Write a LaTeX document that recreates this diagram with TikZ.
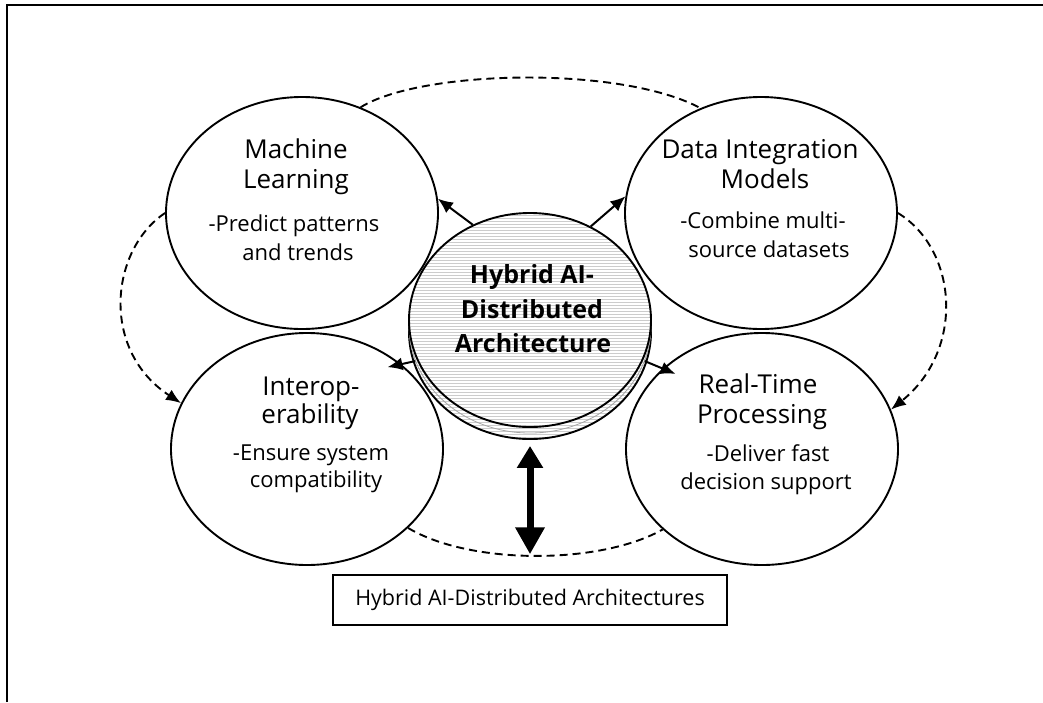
\documentclass[tikz,border=0pt]{standalone}
\usepackage{fontspec}
\setmainfont{Open Sans}
\usetikzlibrary{shapes.geometric,arrows.meta,patterns}

\begin{document}
\begin{tikzpicture}[x=1pt,y=-1pt,
  blob/.style={draw, line width=1.9pt, ellipse, minimum width=272pt, minimum height=232pt, inner sep=0pt},
  disc/.style={ellipse, minimum width=242pt, minimum height=214pt, inner sep=0pt,
    preaction={fill=white}, pattern=horizontal lines, pattern color=gray!40},
  ttl/.style={anchor=base, inner sep=0pt, font=\fontsize{26}{30}\selectfont},
  txt/.style={anchor=base, inner sep=0pt, font=\fontsize{22}{26}\selectfont},
  hubtxt/.style={anchor=base, inner sep=0pt, font=\fontsize{25}{30}\selectfont\bfseries},
  flow/.style={line width=2pt, -{Latex[length=15pt,width=13pt]}},
  cycle/.style={line width=1.9pt, dash pattern=on 8pt off 5pt, -{Latex[length=15pt,width=12pt]}},
  ring/.style={line width=1.9pt, dash pattern=on 8pt off 5pt},
  bigarrow/.style={line width=7pt, {Triangle[length=22pt,width=25pt]}-{Triangle[length=27pt,width=28pt]}},
]
\useasboundingbox (0,0) rectangle (1043,702);

% outer frame (left and top edges)
\draw[line width=2pt] (7,702) -- (7,5) -- (1043,5);

% four topic ellipses
\node[blob] (ml) at (302,213) {};
\node[blob] (di) at (761,213) {};
\node[blob] (io) at (307,449) {};
\node[blob] (rt) at (762,449) {};

% central disc drawn as a stack of three layers
\node[disc, draw, line width=1.9pt] (hubbase) at (530,332) {};
\node[disc, draw=gray!70, line width=0.8pt] (hubmid) at (530,326) {};
\node[disc, draw, line width=1.9pt] (hub) at (530,320) {};

% texts
\node[ttl] (ml1) at (296,158) {Machine};
\node[ttl] (ml2) at (296,188) {Learning};
\node[txt] (ml3) at (294,231) {-Predict patterns};
\node[txt] (ml4) at (298,260) {and trends};

\node[ttl] (di1) at (760,158) {Data Integration};
\node[ttl] (di2) at (765,188) {Models};
\node[txt] (di3) at (763,228) {-Combine multi-};
\node[txt] (di4) at (769,257) {source datasets};

\node[ttl] (io1) at (311,395) {Interop-};
\node[ttl] (io2) at (310,423) {erability};
\node[txt] (io3) at (311,460) {-Ensure system};
\node[txt] (io4) at (316,487) {compatibility};

\node[ttl] (rt1) at (758,393) {Real-Time};
\node[ttl] (rt2) at (762,423) {Processing};
\node[txt] (rt3) at (768,461) {-Deliver fast};
\node[txt] (rt4) at (766,489) {decision support};

\node[hubtxt] (h1) at (532,283) {Hybrid AI-};
\node[hubtxt] (h2) at (532,318) {Distributed};
\node[hubtxt] (h3) at (533,352) {Architecture};

% bottom label
\node[draw, line width=1.5pt, minimum width=394pt, minimum height=50pt, inner sep=0pt,
  font=\fontsize{21.5}{24}\selectfont] (label) at (530,600) {Hybrid AI-Distributed Architectures};

% hub to topics
\draw[flow] (hub.121) -- (ml.6);
\draw[flow] (hub.57) -- (di.173);
\draw[flow, shorten >=-14pt] (hubmid.197) -- (io.42);
\draw[flow, shorten >=-14pt] (hubmid.-17) -- (rt.141);

% hub to label
\draw[bigarrow, shorten <=6pt, shorten >=20pt] (hubbase.south) -- (label.north);

% dashed cycle around the topics
\draw[ring] (ml.61) .. controls (420,70) and (620,65) .. (di.120);
\draw[cycle] (ml.180) .. controls (110,250) and (100,350) .. (io.160);
\draw[cycle] (di.0) .. controls (958,250) and (965,350) .. (rt.17);
\draw[ring] (io.-38) .. controls (470,565) and (600,565) .. (rt.219);
\end{tikzpicture}
\end{document}
